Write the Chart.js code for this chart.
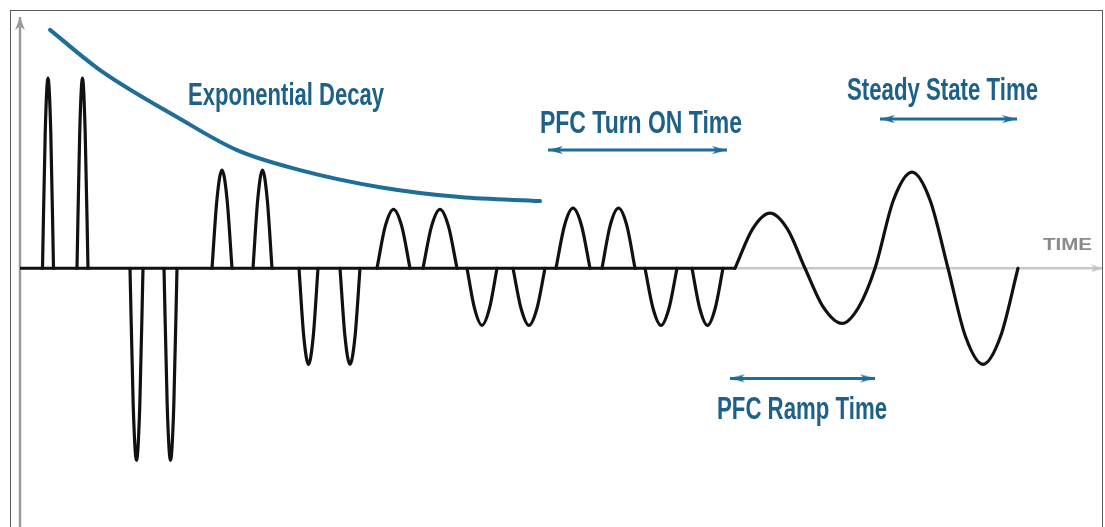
<!DOCTYPE html>
<html>
<head>
<meta charset="utf-8">
<script src="https://cdn.jsdelivr.net/npm/chart.js@4.4.1/dist/chart.umd.min.js"></script>
<style>
  html, body { margin: 0; padding: 0; background: #fff; }
  #wrap { position: relative; width: 1105px; height: 527px; overflow: hidden; }
  #frame { position: absolute; left: 10px; top: 10px; width: 1093px; height: 600px;
           border: 1px solid #5c5c5c; box-sizing: border-box; pointer-events: none; }
</style>
</head>
<body>
<div id="wrap">
  <canvas id="c" width="1105" height="527"></canvas>
  <div id="frame"></div>
</div>
<script>
// time in ms, amplitude normalised to the first pulse
const pulseStart = [2.25, 5.7, 11.0, 14.4, 19.2, 23.3, 27.9, 32.0, 35.7, 40.3, 44.7, 49.3, 53.6, 58.2, 62.5, 67.2];
const pulseRise  = [2.52, 5.97, 11.32, 14.72, 19.7, 23.78, 28.38, 32.5, 36.52, 41.15, 45.45, 50.1, 54.45, 59.02, 63.3, 67.97];
const pulsePeak  = [2.8, 6.25, 11.65, 15.05, 20.2, 24.25, 28.85, 33.0, 37.35, 42.0, 46.2, 50.9, 55.3, 59.85, 64.1, 68.75];
const pulseFall  = [3.08, 6.52, 11.98, 15.38, 20.7, 24.72, 29.32, 33.5, 38.18, 42.85, 46.95, 51.7, 56.15, 60.68, 64.9, 69.52];
const pulseEnd   = [3.35, 6.8, 12.3, 15.7, 21.2, 25.2, 29.8, 34.0, 39.0, 43.7, 47.7, 52.5, 57.0, 61.5, 65.7, 70.3];
const pulseAmp   = [1.0, 1.0, -1.01, -1.01, 0.516, 0.516, -0.505, -0.505, 0.31, 0.31, -0.3, -0.3, 0.316, 0.316, -0.3, -0.3];
const pulseShoulder = [0.71, 0.71, -0.72, -0.72, 0.365, 0.365, -0.36, -0.36, 0.22, 0.22, -0.21, -0.21, 0.225, 0.225, -0.21, -0.21];

// ramp + steady state sine
const sineTime = [71.5, 73.25, 75.0, 76.75, 78.5, 80.35, 82.2, 83.85, 85.5, 87.35, 89.2, 91.0, 92.8, 94.55, 96.3, 98.05, 99.8];
const sineAmp  = [0, 0.206, 0.29, 0.206, 0, -0.206, -0.29, -0.206, 0, 0.359, 0.505, 0.359, 0, -0.359, -0.505, -0.359, 0];

// exponential decay envelope
const decayTime = [3.0, 8.0, 15.7, 21.7, 28.0, 36.0, 44.0, 52.0];
const decayAmp  = [1.253, 1.042, 0.795, 0.621, 0.516, 0.426, 0.374, 0.353];

// time spans
const spanLabels = ['PFC Turn ON Time', 'Steady State Time', 'PFC Ramp Time'];
const spanFrom   = [52.8, 86.0, 71.0];
const spanTo     = [70.7, 99.7, 85.5];
const spanLevel  = [0.621, 0.784, -0.579];

const axisLabel = 'TIME';
const decayLabel = 'Exponential Decay';

// text placement (data units) and fitted widths
const labelBoxes = [
  { text: decayLabel,    x: 26.6,   y: 0.86,  w: 196, size: 31, color: '#1d6089' },
  { text: spanLabels[0], x: 62.1,   y: 0.71,  w: 202, size: 31, color: '#1d6089' },
  { text: spanLabels[1], x: 92.25,  y: 0.884, w: 191, size: 31, color: '#1d6089' },
  { text: spanLabels[2], x: 78.2,   y: -0.79, w: 170, size: 31, color: '#1d6089' },
  { text: axisLabel,     x: 104.75, y: 0.095, w: 49,  size: 17, color: '#8a8a8a' }
];

const BLUE = '#1f6d98';

function arrowHead(color, len, half) {
  const cv = document.createElement('canvas');
  cv.width = len * 2;
  cv.height = half * 2 + 2;
  const g = cv.getContext('2d');
  g.fillStyle = color;
  g.beginPath();
  g.moveTo(0, 1);
  g.lineTo(len, half + 1);
  g.lineTo(0, half * 2 + 1);
  g.lineTo(len * 0.3, half + 1);
  g.closePath();
  g.fill();
  return cv;
}
const blueHead = arrowHead(BLUE, 15, 4);
const grayHead = arrowHead('#9a9a9a', 13, 5);
const lightHead = arrowHead('#c4c4c4', 11, 4);

// waveform: one segment per pulse, then the sine
const wave = [];
for (let i = 0; i < pulseStart.length; i++) {
  wave.push({ x: pulseStart[i], y: 0 });
  wave.push({ x: pulseRise[i], y: pulseShoulder[i] });
  wave.push({ x: pulsePeak[i], y: pulseAmp[i] });
  wave.push({ x: pulseFall[i], y: pulseShoulder[i] });
  wave.push({ x: pulseEnd[i], y: 0 });
  wave.push({ x: pulseEnd[i], y: null });
}
for (let i = 0; i < sineTime.length; i++) {
  wave.push({ x: sineTime[i], y: sineAmp[i] });
}

const datasets = [];

// axes
datasets.push({
  data: [{ x: 0, y: -1.36 }, { x: 0, y: 1.32 }],
  borderColor: '#9a9a9a', borderWidth: 2.5,
  pointRadius: [0, 6], pointStyle: grayHead, pointRotation: -90,
  order: 20
});
datasets.push({
  data: [{ x: 0, y: 0 }, { x: 108.2, y: 0 }],
  borderColor: '#c8c8c8', borderWidth: 2.5,
  pointRadius: [0, 6], pointStyle: lightHead, pointRotation: 0,
  order: 19
});

// baseline and pulses
datasets.push({
  data: [{ x: 0, y: 0 }, { x: sineTime[0], y: 0 }],
  borderColor: '#111', borderWidth: 3.2, pointRadius: 0,
  order: 5
});
datasets.push({
  data: wave,
  borderColor: '#111', borderWidth: 3.2, pointRadius: 0,
  cubicInterpolationMode: 'monotone', spanGaps: false,
  borderJoinStyle: 'round', borderCapStyle: 'round',
  order: 4
});

// decay envelope
datasets.push({
  data: decayTime.map((t, i) => ({ x: t, y: decayAmp[i] })),
  borderColor: BLUE, borderWidth: 4, pointRadius: 0,
  cubicInterpolationMode: 'monotone', borderCapStyle: 'round',
  order: 3
});

// span arrows
for (let i = 0; i < spanLabels.length; i++) {
  datasets.push({
    label: spanLabels[i],
    data: [{ x: spanFrom[i], y: spanLevel[i] }, { x: spanTo[i], y: spanLevel[i] }],
    borderColor: BLUE, borderWidth: 3,
    pointRadius: 8, pointStyle: blueHead, pointRotation: [180, 0],
    order: 2
  });
}

const textPlugin = {
  id: 'texts',
  afterDatasetsDraw(chart) {
    const ctx = chart.ctx;
    const xs = chart.scales.x, ys = chart.scales.y;
    labelBoxes.forEach(b => {
      ctx.save();
      ctx.font = 'bold ' + b.size + 'px "Liberation Sans Narrow", "Liberation Sans", Arial, sans-serif';
      ctx.fillStyle = b.color;
      ctx.textBaseline = 'alphabetic';
      const px = xs.getPixelForValue(b.x);
      const py = ys.getPixelForValue(b.y);
      const m = ctx.measureText(b.text).width;
      const k = b.w / m;
      ctx.translate(px, py);
      ctx.scale(k, 1);
      ctx.textAlign = 'center';
      ctx.fillText(b.text, 0, 0);
      ctx.restore();
    });
  }
};

new Chart(document.getElementById('c'), {
  type: 'line',
  data: { datasets: datasets },
  options: {
    responsive: false,
    animation: false,
    events: [],
    layout: { padding: 0, autoPadding: false },
    scales: {
      x: { type: 'linear', min: -2, max: 108.5, display: false },
      y: { type: 'linear', min: -1.36, max: 1.41, display: false }
    },
    plugins: { legend: { display: false }, tooltip: { enabled: false } },
    elements: { line: { tension: 0 } }
  },
  plugins: [textPlugin]
});
</script>
</body>
</html>
